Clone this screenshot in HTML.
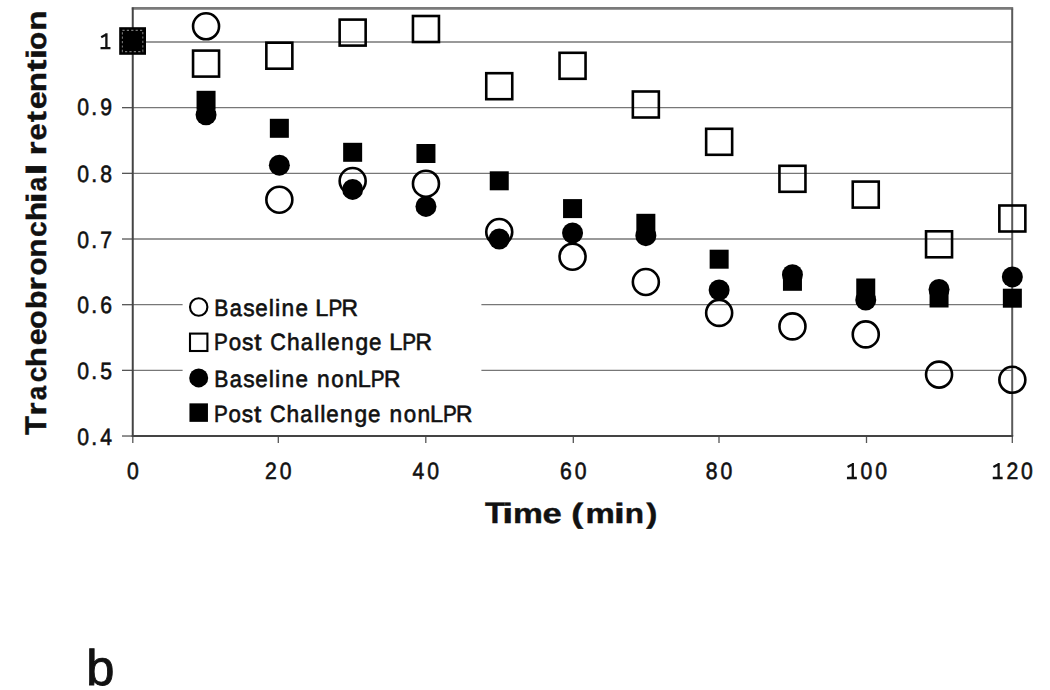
<!DOCTYPE html>
<html><head><meta charset="utf-8"><style>
html,body{margin:0;padding:0;background:#fff;}
svg{display:block;}
text{font-family:"Liberation Sans",sans-serif;fill:#111;text-rendering:geometricPrecision;}
.tk{font-size:23.5px;stroke:#111;stroke-width:0.6px;}
.lg{font-size:23.5px;stroke:#111;stroke-width:0.6px;}
.ti{font-size:28px;font-weight:bold;stroke:#111;stroke-width:0.4px;}
.bl{font-size:50px;stroke:#111;stroke-width:0.9px;}
</style></head><body>
<div id="w"><svg width="1050" height="690" viewBox="0 0 1050 690">
<rect width="1050" height="690" fill="#fff"/>
<line x1="132.75" y1="42.00" x2="1012.35" y2="42.00" stroke="#777" stroke-width="1.3"/>
<line x1="132.75" y1="107.67" x2="1012.35" y2="107.67" stroke="#777" stroke-width="1.3"/>
<line x1="132.75" y1="173.34" x2="1012.35" y2="173.34" stroke="#777" stroke-width="1.3"/>
<line x1="132.75" y1="239.01" x2="1012.35" y2="239.01" stroke="#777" stroke-width="1.3"/>
<line x1="132.75" y1="304.68" x2="1012.35" y2="304.68" stroke="#777" stroke-width="1.3"/>
<line x1="132.75" y1="370.35" x2="1012.35" y2="370.35" stroke="#777" stroke-width="1.3"/>
<line x1="122" y1="42.00" x2="132.75" y2="42.00" stroke="#555" stroke-width="1.3"/>
<line x1="122" y1="107.67" x2="132.75" y2="107.67" stroke="#555" stroke-width="1.3"/>
<line x1="122" y1="173.34" x2="132.75" y2="173.34" stroke="#555" stroke-width="1.3"/>
<line x1="122" y1="239.01" x2="132.75" y2="239.01" stroke="#555" stroke-width="1.3"/>
<line x1="122" y1="304.68" x2="132.75" y2="304.68" stroke="#555" stroke-width="1.3"/>
<line x1="122" y1="370.35" x2="132.75" y2="370.35" stroke="#555" stroke-width="1.3"/>
<line x1="122" y1="436.02" x2="132.75" y2="436.02" stroke="#555" stroke-width="1.3"/>
<line x1="132.80" y1="436.02" x2="132.80" y2="443.02" stroke="#555" stroke-width="1.3"/>
<line x1="278.30" y1="436.02" x2="278.30" y2="443.02" stroke="#555" stroke-width="1.3"/>
<line x1="425.80" y1="436.02" x2="425.80" y2="443.02" stroke="#555" stroke-width="1.3"/>
<line x1="573.30" y1="436.02" x2="573.30" y2="443.02" stroke="#555" stroke-width="1.3"/>
<line x1="719.00" y1="436.02" x2="719.00" y2="443.02" stroke="#555" stroke-width="1.3"/>
<line x1="866.50" y1="436.02" x2="866.50" y2="443.02" stroke="#555" stroke-width="1.3"/>
<line x1="1012.30" y1="436.02" x2="1012.30" y2="443.02" stroke="#555" stroke-width="1.3"/>
<rect x="182.6" y="287" width="298.8" height="142" fill="#fff"/>
<line x1="131.75" y1="8.40" x2="1013.20" y2="8.40" stroke="#7a7a7a" stroke-width="2.6"/>
<line x1="1012.20" y1="8.40" x2="1012.20" y2="436.02" stroke="#5a5a5a" stroke-width="2"/>
<line x1="132.75" y1="7.40" x2="132.75" y2="437.02" stroke="#444" stroke-width="2"/>
<line x1="131.75" y1="436.02" x2="1013.20" y2="436.02" stroke="#444" stroke-width="2"/>
<circle cx="206.05" cy="26.30" r="13.00" fill="none" stroke="#000" stroke-width="2.6"/>
<circle cx="279.35" cy="199.70" r="13.00" fill="none" stroke="#000" stroke-width="2.6"/>
<circle cx="352.65" cy="181.00" r="13.00" fill="none" stroke="#000" stroke-width="2.6"/>
<circle cx="425.95" cy="183.70" r="13.00" fill="none" stroke="#000" stroke-width="2.6"/>
<circle cx="499.25" cy="232.00" r="13.00" fill="none" stroke="#000" stroke-width="2.6"/>
<circle cx="572.55" cy="256.70" r="13.00" fill="none" stroke="#000" stroke-width="2.6"/>
<circle cx="645.85" cy="282.00" r="13.00" fill="none" stroke="#000" stroke-width="2.6"/>
<circle cx="719.15" cy="312.90" r="13.00" fill="none" stroke="#000" stroke-width="2.6"/>
<circle cx="792.45" cy="326.40" r="13.00" fill="none" stroke="#000" stroke-width="2.6"/>
<circle cx="865.75" cy="334.40" r="13.00" fill="none" stroke="#000" stroke-width="2.6"/>
<circle cx="939.05" cy="374.60" r="13.00" fill="none" stroke="#000" stroke-width="2.6"/>
<circle cx="1012.35" cy="379.80" r="13.00" fill="none" stroke="#000" stroke-width="2.6"/>
<rect x="193.05" y="50.60" width="26.00" height="26.00" fill="none" stroke="#000" stroke-width="2.6"/>
<rect x="266.35" y="42.70" width="26.00" height="26.00" fill="none" stroke="#000" stroke-width="2.6"/>
<rect x="339.65" y="19.60" width="26.00" height="26.00" fill="none" stroke="#000" stroke-width="2.6"/>
<rect x="412.95" y="16.00" width="26.00" height="26.00" fill="none" stroke="#000" stroke-width="2.6"/>
<rect x="486.25" y="73.20" width="26.00" height="26.00" fill="none" stroke="#000" stroke-width="2.6"/>
<rect x="559.55" y="52.80" width="26.00" height="26.00" fill="none" stroke="#000" stroke-width="2.6"/>
<rect x="632.85" y="91.50" width="26.00" height="26.00" fill="none" stroke="#000" stroke-width="2.6"/>
<rect x="706.15" y="128.80" width="26.00" height="26.00" fill="none" stroke="#000" stroke-width="2.6"/>
<rect x="779.45" y="165.80" width="26.00" height="26.00" fill="none" stroke="#000" stroke-width="2.6"/>
<rect x="852.75" y="181.60" width="26.00" height="26.00" fill="none" stroke="#000" stroke-width="2.6"/>
<rect x="926.05" y="231.30" width="26.00" height="26.00" fill="none" stroke="#000" stroke-width="2.6"/>
<rect x="999.35" y="205.50" width="26.00" height="26.00" fill="none" stroke="#000" stroke-width="2.6"/>
<circle cx="206.05" cy="114.80" r="10.50" fill="#000"/>
<circle cx="279.35" cy="165.20" r="10.50" fill="#000"/>
<circle cx="352.65" cy="189.40" r="10.50" fill="#000"/>
<circle cx="425.95" cy="206.40" r="10.50" fill="#000"/>
<circle cx="499.25" cy="239.00" r="10.50" fill="#000"/>
<circle cx="572.55" cy="233.00" r="10.50" fill="#000"/>
<circle cx="645.85" cy="235.70" r="10.50" fill="#000"/>
<circle cx="719.15" cy="290.00" r="10.50" fill="#000"/>
<circle cx="792.45" cy="274.70" r="10.50" fill="#000"/>
<circle cx="865.75" cy="300.00" r="10.50" fill="#000"/>
<circle cx="939.05" cy="289.50" r="10.50" fill="#000"/>
<circle cx="1012.35" cy="276.90" r="10.50" fill="#000"/>
<rect x="196.55" y="90.80" width="19.00" height="19.00" fill="#000"/>
<rect x="269.85" y="118.80" width="19.00" height="19.00" fill="#000"/>
<rect x="343.15" y="142.80" width="19.00" height="19.00" fill="#000"/>
<rect x="416.45" y="144.00" width="19.00" height="19.00" fill="#000"/>
<rect x="489.75" y="171.30" width="19.00" height="19.00" fill="#000"/>
<rect x="563.05" y="199.10" width="19.00" height="19.00" fill="#000"/>
<rect x="636.35" y="213.80" width="19.00" height="19.00" fill="#000"/>
<rect x="709.65" y="249.70" width="19.00" height="19.00" fill="#000"/>
<rect x="782.95" y="271.80" width="19.00" height="19.00" fill="#000"/>
<rect x="856.25" y="278.50" width="19.00" height="19.00" fill="#000"/>
<rect x="929.55" y="288.50" width="19.00" height="19.00" fill="#000"/>
<rect x="1002.85" y="288.70" width="19.00" height="19.00" fill="#000"/>
<rect x="119.2" y="27.2" width="26.8" height="27.6" fill="#000"/>
<rect x="122.4" y="30.4" width="20.4" height="21.2" fill="none" stroke="#777" stroke-width="1.1" stroke-dasharray="2.2 2.2"/>
<circle cx="198.70" cy="307.00" r="8.70" fill="none" stroke="#000" stroke-width="2.1"/>
<rect x="190.00" y="333.60" width="17.40" height="17.40" fill="none" stroke="#000" stroke-width="2.1"/>
<circle cx="198.70" cy="377.90" r="9.50" fill="#000"/>
<rect x="189.45" y="403.35" width="18.50" height="18.50" fill="#000"/>
<path d="M100.55 48.20H110.45M106.40 49.30V33.30M106.70 34.20L101.20 37.20" fill="none" stroke="#111" stroke-width="2.3"/>
<text transform="translate(83.10,114.60) scale(0.9,1)" class="tk" text-anchor="middle">0</text>
<text transform="translate(94.30,114.60) scale(0.9,1)" class="tk" text-anchor="middle">.</text>
<text transform="translate(106.10,114.60) scale(0.9,1)" class="tk" text-anchor="middle">9</text>
<text transform="translate(83.10,182.20) scale(0.9,1)" class="tk" text-anchor="middle">0</text>
<text transform="translate(94.30,182.20) scale(0.9,1)" class="tk" text-anchor="middle">.</text>
<text transform="translate(106.10,182.20) scale(0.9,1)" class="tk" text-anchor="middle">8</text>
<text transform="translate(83.10,247.80) scale(0.9,1)" class="tk" text-anchor="middle">0</text>
<text transform="translate(94.30,247.80) scale(0.9,1)" class="tk" text-anchor="middle">.</text>
<text transform="translate(106.10,247.80) scale(0.9,1)" class="tk" text-anchor="middle">7</text>
<text transform="translate(83.10,313.00) scale(0.9,1)" class="tk" text-anchor="middle">0</text>
<text transform="translate(94.30,313.00) scale(0.9,1)" class="tk" text-anchor="middle">.</text>
<text transform="translate(106.10,313.00) scale(0.9,1)" class="tk" text-anchor="middle">6</text>
<text transform="translate(83.10,378.90) scale(0.9,1)" class="tk" text-anchor="middle">0</text>
<text transform="translate(94.30,378.90) scale(0.9,1)" class="tk" text-anchor="middle">.</text>
<text transform="translate(106.10,378.90) scale(0.9,1)" class="tk" text-anchor="middle">5</text>
<text transform="translate(83.10,444.90) scale(0.9,1)" class="tk" text-anchor="middle">0</text>
<text transform="translate(94.30,444.90) scale(0.9,1)" class="tk" text-anchor="middle">.</text>
<text transform="translate(106.10,444.90) scale(0.9,1)" class="tk" text-anchor="middle">4</text>
<text transform="translate(132.80,479.10) scale(0.9,1)" class="tk" text-anchor="middle">0</text>
<text transform="translate(271.00,479.10) scale(0.9,1)" class="tk" text-anchor="middle">2</text>
<text transform="translate(285.60,479.10) scale(0.9,1)" class="tk" text-anchor="middle">0</text>
<text transform="translate(418.50,479.10) scale(0.9,1)" class="tk" text-anchor="middle">4</text>
<text transform="translate(433.10,479.10) scale(0.9,1)" class="tk" text-anchor="middle">0</text>
<text transform="translate(566.00,479.10) scale(0.9,1)" class="tk" text-anchor="middle">6</text>
<text transform="translate(580.60,479.10) scale(0.9,1)" class="tk" text-anchor="middle">0</text>
<text transform="translate(711.70,479.10) scale(0.9,1)" class="tk" text-anchor="middle">8</text>
<text transform="translate(726.30,479.10) scale(0.9,1)" class="tk" text-anchor="middle">0</text>
<path d="M846.95 478.00H856.85M852.80 479.10V463.10M853.10 464.00L847.60 467.00" fill="none" stroke="#111" stroke-width="2.3"/>
<text transform="translate(866.50,479.10) scale(0.9,1)" class="tk" text-anchor="middle">0</text>
<text transform="translate(881.10,479.10) scale(0.9,1)" class="tk" text-anchor="middle">0</text>
<path d="M992.75 478.00H1002.65M998.60 479.10V463.10M998.90 464.00L993.40 467.00" fill="none" stroke="#111" stroke-width="2.3"/>
<text transform="translate(1012.30,479.10) scale(0.9,1)" class="tk" text-anchor="middle">2</text>
<text transform="translate(1026.90,479.10) scale(0.9,1)" class="tk" text-anchor="middle">0</text>
<text transform="translate(484.91,523.0) scale(1.158,1.07)" class="ti">T</text>
<text transform="translate(502.37,523.0) scale(1.413,1.0)" class="ti">i</text>
<text transform="translate(513.10,523.0) scale(1.200,1.0)" class="ti">m</text>
<text transform="translate(542.56,523.0) scale(1.237,1.0)" class="ti">e</text>
<text transform="translate(571.36,523.0) scale(1.290,1.0)" class="ti">(</text>
<text transform="translate(585.54,523.0) scale(1.177,1.0)" class="ti">m</text>
<text transform="translate(613.93,523.0) scale(1.387,1.0)" class="ti">i</text>
<text transform="translate(624.73,523.0) scale(1.126,1.0)" class="ti">n</text>
<text transform="translate(646.20,523.0) scale(1.188,1.0)" class="ti">)</text>
<text transform="translate(45.9,435.08) rotate(-90) scale(1.109,1.07)" class="ti">T</text>
<text transform="translate(45.9,415.60) rotate(-90) scale(1.200,1.0)" class="ti">r</text>
<text transform="translate(45.9,400.30) rotate(-90) scale(0.927,1.0)" class="ti">a</text>
<text transform="translate(45.9,382.30) rotate(-90) scale(0.996,1.0)" class="ti">c</text>
<text transform="translate(45.9,367.37) rotate(-90) scale(1.185,1.0)" class="ti">h</text>
<text transform="translate(45.9,345.18) rotate(-90) scale(1.081,1.0)" class="ti">e</text>
<text transform="translate(45.9,329.10) rotate(-90) scale(1.100,1.0)" class="ti">o</text>
<text transform="translate(45.9,309.13) rotate(-90) scale(1.102,1.0)" class="ti">b</text>
<text transform="translate(45.9,290.68) rotate(-90) scale(1.246,1.0)" class="ti">r</text>
<text transform="translate(45.9,275.57) rotate(-90) scale(1.067,1.0)" class="ti">o</text>
<text transform="translate(45.9,257.87) rotate(-90) scale(1.126,1.0)" class="ti">n</text>
<text transform="translate(45.9,236.91) rotate(-90) scale(1.011,1.0)" class="ti">c</text>
<text transform="translate(45.9,221.19) rotate(-90) scale(1.147,1.0)" class="ti">h</text>
<text transform="translate(45.9,203.74) rotate(-90) scale(1.520,1.0)" class="ti">i</text>
<text transform="translate(45.9,191.40) rotate(-90) scale(0.933,1.0)" class="ti">a</text>
<text transform="translate(45.9,175.65) rotate(-90) scale(1.627,1.0)" class="ti">l</text>
<text transform="translate(45.9,155.56) rotate(-90) scale(1.291,1.0)" class="ti">r</text>
<text transform="translate(45.9,140.39) rotate(-90) scale(1.089,1.0)" class="ti">e</text>
<text transform="translate(45.9,122.30) rotate(-90) scale(1.200,1.0)" class="ti">t</text>
<text transform="translate(45.9,109.16) rotate(-90) scale(1.156,1.0)" class="ti">e</text>
<text transform="translate(45.9,92.29) rotate(-90) scale(1.193,1.0)" class="ti">n</text>
<text transform="translate(45.9,71.42) rotate(-90) scale(1.291,1.0)" class="ti">t</text>
<text transform="translate(45.9,59.47) rotate(-90) scale(1.387,1.0)" class="ti">i</text>
<text transform="translate(45.9,49.97) rotate(-90) scale(1.067,1.0)" class="ti">o</text>
<text transform="translate(45.9,30.77) rotate(-90) scale(1.185,1.0)" class="ti">n</text>
<text transform="translate(214.29,315.7) scale(0.9,1)" class="lg">B</text>
<text transform="translate(229.64,315.7) scale(0.93,1)" class="lg">a</text>
<text transform="translate(243.13,315.7) scale(0.97,1)" class="lg">s</text>
<text transform="translate(255.25,315.7) scale(0.95,1)" class="lg">e</text>
<text transform="translate(268.70,315.7) scale(1.0,1)" class="lg">l</text>
<text transform="translate(274.90,315.7) scale(1.0,1)" class="lg">i</text>
<text transform="translate(281.38,315.7) scale(0.97,1)" class="lg">n</text>
<text transform="translate(295.38,315.7) scale(0.95,1)" class="lg">e</text>
<text transform="translate(315.37,315.7) scale(1.0,1)" class="lg">L</text>
<text transform="translate(328.43,315.7) scale(0.88,1)" class="lg">P</text>
<text transform="translate(341.61,315.7) scale(0.97,1)" class="lg">R</text>
<text transform="translate(213.94,350.4) scale(0.88,1)" class="lg">P</text>
<text transform="translate(228.64,350.4) scale(0.95,1)" class="lg">o</text>
<text transform="translate(241.91,350.4) scale(0.97,1)" class="lg">s</text>
<text transform="translate(254.32,350.4) scale(1.1,1)" class="lg">t</text>
<text transform="translate(270.33,350.4) scale(0.92,1)" class="lg">C</text>
<text transform="translate(287.09,350.4) scale(0.97,1)" class="lg">h</text>
<text transform="translate(300.84,350.4) scale(0.93,1)" class="lg">a</text>
<text transform="translate(314.72,350.4) scale(1.0,1)" class="lg">l</text>
<text transform="translate(320.94,350.4) scale(1.0,1)" class="lg">l</text>
<text transform="translate(327.16,350.4) scale(0.95,1)" class="lg">e</text>
<text transform="translate(340.94,350.4) scale(0.97,1)" class="lg">n</text>
<text transform="translate(355.41,350.4) scale(0.97,1)" class="lg">g</text>
<text transform="translate(369.10,350.4) scale(0.95,1)" class="lg">e</text>
<text transform="translate(389.15,350.4) scale(1.0,1)" class="lg">L</text>
<text transform="translate(402.25,350.4) scale(0.88,1)" class="lg">P</text>
<text transform="translate(415.47,350.4) scale(0.97,1)" class="lg">R</text>
<text transform="translate(214.29,387.09999999999997) scale(0.9,1)" class="lg">B</text>
<text transform="translate(229.64,387.09999999999997) scale(0.93,1)" class="lg">a</text>
<text transform="translate(243.13,387.09999999999997) scale(0.97,1)" class="lg">s</text>
<text transform="translate(255.25,387.09999999999997) scale(0.95,1)" class="lg">e</text>
<text transform="translate(268.70,387.09999999999997) scale(1.0,1)" class="lg">l</text>
<text transform="translate(274.90,387.09999999999997) scale(1.0,1)" class="lg">i</text>
<text transform="translate(281.38,387.09999999999997) scale(0.97,1)" class="lg">n</text>
<text transform="translate(295.38,387.09999999999997) scale(0.95,1)" class="lg">e</text>
<text transform="translate(317.06,387.09999999999997) scale(0.97,1)" class="lg">n</text>
<text transform="translate(331.19,387.09999999999997) scale(0.95,1)" class="lg">o</text>
<text transform="translate(345.06,387.09999999999997) scale(0.97,1)" class="lg">n</text>
<text transform="translate(357.66,387.09999999999997) scale(1.0,1)" class="lg">L</text>
<text transform="translate(370.72,387.09999999999997) scale(0.88,1)" class="lg">P</text>
<text transform="translate(383.89,387.09999999999997) scale(0.97,1)" class="lg">R</text>
<text transform="translate(213.89,422.2) scale(0.88,1)" class="lg">P</text>
<text transform="translate(228.50,422.2) scale(0.95,1)" class="lg">o</text>
<text transform="translate(241.67,422.2) scale(0.97,1)" class="lg">s</text>
<text transform="translate(254.01,422.2) scale(1.1,1)" class="lg">t</text>
<text transform="translate(269.88,422.2) scale(0.92,1)" class="lg">C</text>
<text transform="translate(286.54,422.2) scale(0.97,1)" class="lg">h</text>
<text transform="translate(300.19,422.2) scale(0.93,1)" class="lg">a</text>
<text transform="translate(314.00,422.2) scale(1.0,1)" class="lg">l</text>
<text transform="translate(320.17,422.2) scale(1.0,1)" class="lg">l</text>
<text transform="translate(326.32,422.2) scale(0.95,1)" class="lg">e</text>
<text transform="translate(340.01,422.2) scale(0.97,1)" class="lg">n</text>
<text transform="translate(354.38,422.2) scale(0.97,1)" class="lg">g</text>
<text transform="translate(367.97,422.2) scale(0.95,1)" class="lg">e</text>
<text transform="translate(389.56,422.2) scale(0.97,1)" class="lg">n</text>
<text transform="translate(403.63,422.2) scale(0.95,1)" class="lg">o</text>
<text transform="translate(417.44,422.2) scale(0.97,1)" class="lg">n</text>
<text transform="translate(429.99,422.2) scale(1.0,1)" class="lg">L</text>
<text transform="translate(443.00,422.2) scale(0.88,1)" class="lg">P</text>
<text transform="translate(456.11,422.2) scale(0.97,1)" class="lg">R</text>
<text id="b" x="86.30" y="684.60" class="bl" text-anchor="start" textLength="28.17" lengthAdjust="spacingAndGlyphs">b</text>
</svg></div>
</body></html>
